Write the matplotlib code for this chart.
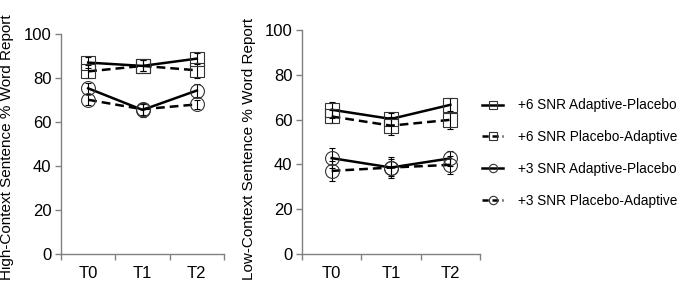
import matplotlib
matplotlib.use("Agg")
import matplotlib.pyplot as plt
from matplotlib.lines import Line2D

plt.rcParams['font.family'] = ['Liberation Sans', 'DejaVu Sans']

categories = ["T0", "T1", "T2"]
series_names = ["+6 SNR Adaptive-Placebo", "+6 SNR Placebo-Adaptive",
                "+3 SNR Adaptive-Placebo", "+3 SNR Placebo-Adaptive"]

high_6_ap = [87.0, 85.5, 88.8]
high_6_pa = [83.0, 85.5, 83.5]
high_3_ap = [75.3, 65.5, 74.3]
high_3_pa = [70.1, 65.8, 68.0]
high_6_ap_err = [2.5, 2.5, 2.5]
high_6_pa_err = [3.0, 2.5, 3.5]
high_3_ap_err = [2.5, 3.0, 3.0]
high_3_pa_err = [2.5, 2.5, 2.0]

low_6_ap = [64.4, 60.3, 66.6]
low_6_pa = [61.4, 57.3, 59.9]
low_3_ap = [42.8, 38.6, 42.7]
low_3_pa = [37.1, 38.6, 39.8]
low_6_ap_err = [3.5, 2.5, 3.0]
low_6_pa_err = [3.0, 4.0, 4.0]
low_3_ap_err = [4.5, 4.0, 3.5]
low_3_pa_err = [4.5, 4.5, 4.0]

y_ticks = [0, 20, 40, 60, 80, 100]

styles = [('-', 's'), ('--', 's'), ('-', 'o'), ('--', 'o')]

W, H = 680, 283
fig = plt.figure(figsize=(6.8, 2.83), dpi=100)

def px_axes(x0, y0, x1, y1):
    return fig.add_axes([x0 / W, 1 - y1 / H, (x1 - x0) / W, (y1 - y0) / H])

ax1 = px_axes(61, 34, 224, 254)
ax2 = px_axes(302, 30, 480, 254)

spine_col = '#808080'
x = [0.5, 1.5, 2.5]

def draw(ax, vals, errs):
    for (ls, mk), v, e in zip(styles, vals, errs):
        ax.errorbar(x, v, yerr=e, fmt='none', ecolor='black', elinewidth=0.8,
                    capsize=2, capthick=0.8, zorder=2)
        line, = ax.plot(x, v, color='black', linewidth=1.8, zorder=3,
                        marker=mk, markersize=10, markerfacecolor='none',
                        markeredgecolor='#333333', markeredgewidth=0.8)
        if ls == '--':
            line.set_dashes((3.5, 2))
    ax.set_xlim(0, 3)
    ax.set_ylim(0, 100)
    ax.set_yticks(y_ticks)
    ax.set_xticks([0, 1, 2, 3])
    ax.set_xticklabels([])
    ax.set_xticks(x, minor=True)
    ax.set_xticklabels(categories, minor=True)
    ax.tick_params(axis='x', which='minor', length=0, pad=9, labelsize=12)
    ax.tick_params(axis='x', which='major', length=4, color=spine_col, width=1)
    ax.tick_params(axis='y', length=4, color=spine_col, width=1, labelsize=12, pad=3)
    for s in ['top', 'right']:
        ax.spines[s].set_visible(False)
    for s in ['left', 'bottom']:
        ax.spines[s].set_color(spine_col)
        ax.spines[s].set_linewidth(1)
    ax.set_facecolor('none')

draw(ax1, [high_6_ap, high_6_pa, high_3_ap, high_3_pa],
     [high_6_ap_err, high_6_pa_err, high_3_ap_err, high_3_pa_err])
draw(ax2, [low_6_ap, low_6_pa, low_3_ap, low_3_pa],
     [low_6_ap_err, low_6_pa_err, low_3_ap_err, low_3_pa_err])

fig.text(7 / W, 1 - 280 / H, "High-Context Sentence % Word Report", rotation=90,
         ha='center', va='bottom', fontsize=11)
fig.text(249 / W, 1 - 280 / H, "Low-Context Sentence % Word Report", rotation=90,
         ha='center', va='bottom', fontsize=11)

handles = []
for (ls, mk), name in zip(styles, series_names):
    h = Line2D([], [], color='black', linewidth=1.8, marker=mk, markersize=6,
               markerfacecolor='none', markeredgecolor='#333333', markeredgewidth=0.8,
               label=name)
    if ls == '--':
        h.set_dashes((2.5, 1.5))
    handles.append(h)
fig.legend(handles=handles, loc='upper left', bbox_to_anchor=(477 / W, 1 - 93 / H),
           frameon=False, fontsize=9.8, handlelength=1.5, handletextpad=1.1,
           labelspacing=1.3, borderaxespad=0)

fig.savefig("out.png", dpi=100)
